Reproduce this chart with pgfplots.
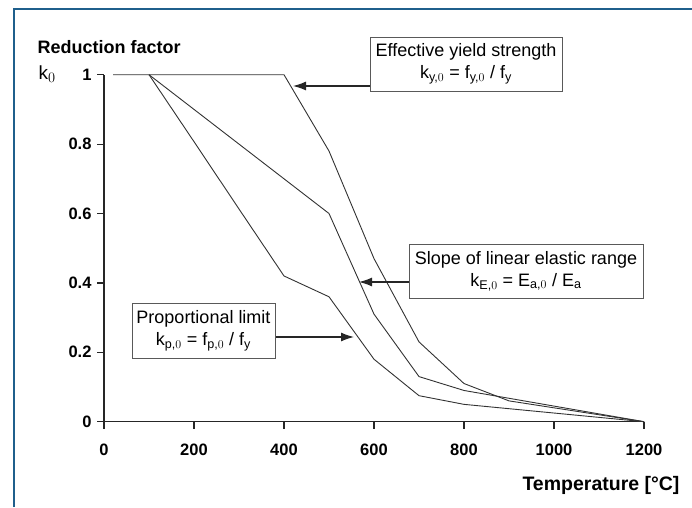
\documentclass[border=0pt]{standalone}
\usepackage{fontspec}
\setmainfont{Liberation Sans}
\usepackage{pgfplots}
\pgfplotsset{compat=1.18}
\usetikzlibrary{arrows.meta}
\definecolor{framebl}{RGB}{31,95,140}
\definecolor{curve}{RGB}{50,50,50}
\begin{document}
\begin{tikzpicture}
\useasboundingbox (0pt,0pt) rectangle (692pt,507pt);
% blue frame
\draw[framebl, line width=2pt] (14pt,0pt) -- (14pt,498pt) -- (692pt,498pt);

\begin{axis}[
  at={(104pt,85.3pt)}, anchor=south west,
  scale only axis,
  width=540pt, height=347pt,
  xmin=0, xmax=1200, ymin=0, ymax=1,
  axis x line=bottom, axis y line=left,
  axis line style={-, line width=1.3pt, draw=black!85},
  xtick={0,200,...,1200},
  ytick={0,0.2,0.4,0.6,0.8,1},
  yticklabels={0,0.2,0.4,0.6,0.8,1},
  tick align=outside,
  major tick length=7pt,
  tick style={line width=1.2pt, black!85},
  ticklabel style={font=\fontsize{16.5}{18}\selectfont\bfseries},
  /pgf/number format/assume math mode=true,
  /pgf/number format/set thousands separator={},
  xticklabel style={yshift=-12pt},
  yticklabel style={xshift=-2pt},
  clip=false,
]
\addplot[curve, line width=0.9pt] coordinates {
  (20,1) (100,1) (200,1) (300,1) (400,1) (500,0.78) (600,0.47)
  (700,0.23) (800,0.11) (900,0.06) (1000,0.04) (1100,0.02) (1200,0)
};
\addplot[curve, line width=0.9pt] coordinates {
  (100,1) (200,0.9) (300,0.8) (400,0.7) (500,0.6) (600,0.31)
  (700,0.13) (800,0.09) (900,0.0675) (1000,0.045) (1100,0.0225) (1200,0)
};
\addplot[curve, line width=0.9pt] coordinates {
  (100,1) (200,0.807) (300,0.613) (400,0.42) (500,0.36) (600,0.18)
  (700,0.075) (800,0.05) (900,0.0375) (1000,0.025) (1100,0.0125) (1200,0)
};
\end{axis}

% axis titles
\node[anchor=west, font=\fontsize{18}{20}\selectfont\bfseries] at (34pt,460pt) {Reduction factor};
\node[anchor=west, font=\fontsize{19}{20}\selectfont] at (35pt,433pt) {k$_0$};
\node[anchor=east, font=\fontsize{19.5}{22}\selectfont\bfseries] at (683pt,22pt) {Temperature [°C]};

% annotation boxes and arrows
\tikzset{lbl/.style={draw=black!65, line width=0.8pt, fill=white, align=center,
  font=\fontsize{18}{22}\selectfont, inner sep=2pt}}
\draw[black!85, line width=1.2pt, -{Latex[length=13pt,width=9pt]}] (372pt,421pt) -- (293pt,421pt);
\draw[black!85, line width=1.2pt, -{Latex[length=13pt,width=9pt]}] (411pt,225pt) -- (359pt,225pt);
\draw[black!85, line width=1.2pt, -{Latex[length=13pt,width=9pt]}] (273pt,170pt) -- (354pt,170pt);

\node[lbl, minimum width=192pt, minimum height=54pt] at (466pt,443pt)
  {Effective yield strength\\ k\textsubscript{y,$0$} = f\textsubscript{y,$0$} / f\textsubscript{y}};
\node[lbl, minimum width=234pt, minimum height=54pt] at (526pt,236pt)
  {Slope of linear elastic range\\ k\textsubscript{E,$0$} = E\textsubscript{a,$0$} / E\textsubscript{a}};
\node[lbl, minimum width=143pt, minimum height=55pt] at (203.5pt,176.5pt)
  {Proportional limit\\ k\textsubscript{p,$0$} = f\textsubscript{p,$0$} / f\textsubscript{y}};
\end{tikzpicture}
\end{document}
